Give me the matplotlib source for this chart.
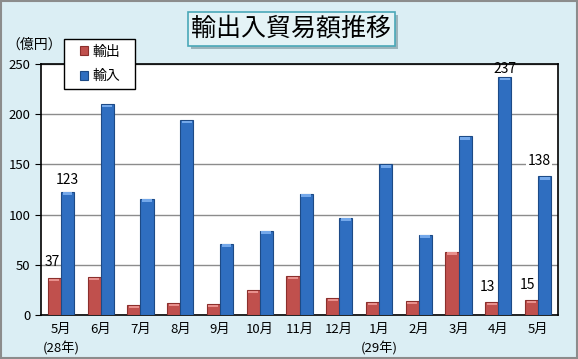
import numpy as np
import matplotlib
matplotlib.use("Agg")
import matplotlib.pyplot as plt
from matplotlib.patches import Rectangle

plt.rcParams["font.family"] = ["Noto Sans CJK JP", "DejaVu Sans"]

months = ["5月\n(28年)", "6月", "7月", "8月", "9月", "10月", "11月", "12月",
          "1月\n(29年)", "2月", "3月", "4月", "5月"]
exports = [37, 38, 10, 12, 11, 25, 39, 17, 13, 14, 63, 13, 15]
imports = [123, 210, 116, 194, 71, 84, 121, 97, 150, 80, 178, 237, 138]

W, H = 578, 359
fig = plt.figure(figsize=(W / 100, H / 100), dpi=100)
fig.patch.set_facecolor("#dbeef4")
fig.patches.append(Rectangle((0.002, 0.003), 0.996, 0.994, transform=fig.transFigure,
                             fill=False, edgecolor="#8c8c8c", lw=1.5))

ax = fig.add_axes([41 / W, 1 - 315 / H, 517 / W, 251 / H])
x = np.arange(len(months))
bw = 0.33
ax.bar(x - bw / 2, exports, bw, color="#c0504d", edgecolor="#8b2f2c", lw=0.8,
       label="輸出", zorder=3)
ax.bar(x + bw / 2, imports, bw, color="#2f6ec0", edgecolor="#1d4a86", lw=0.8,
       label="輸入", zorder=3)
# lighter top caps for a 3-D look
ax.bar(x - bw / 2, [2.5] * len(x), bw * 0.75, bottom=np.array(exports) - 3.2,
       color="#e8908d", lw=0, zorder=4)
ax.bar(x + bw / 2, [2.5] * len(x), bw * 0.75, bottom=np.array(imports) - 3.2,
       color="#74a8ea", lw=0, zorder=4)

ax.set_xlim(-0.5, len(months) - 0.5)
ax.set_ylim(0, 250)
ax.set_yticks(range(0, 251, 50))
ax.yaxis.grid(True, color="#8c8c8c", lw=1, zorder=0)
ax.set_xticks(x)
ax.set_xticklabels(months, fontsize=9.5, linespacing=1.45, va="top")
ax.tick_params(axis="x", length=0, pad=6)
ax.tick_params(axis="y", labelsize=9.5, length=4, direction="out")
for s in ax.spines.values():
    s.set_color("black")
    s.set_linewidth(1.2)

# data labels
lab = dict(fontsize=10, ha="center", va="bottom", zorder=6)
ax.text(0 - bw / 2 - 0.05, exports[0] + 9, "37", **lab)
ax.text(0 + bw / 2, imports[0] + 4, "123", **lab)
ax.text(11 + bw / 2, imports[11] + 1, "237", **lab)
ax.text(11 - bw / 2 - 0.12, exports[11] + 8, "13", **lab)
ax.text(12 - bw / 2 - 0.1, exports[12] + 8, "15", **lab)
ax.text(12 + 0.02, imports[12] + 8, "138", bbox=dict(facecolor="white", edgecolor="none", pad=1), **lab)

# legend: manual frame, frameless legend inside
fig.patches.append(Rectangle((64 / W, 1 - 89 / H), 71 / W, 50 / H, transform=fig.transFigure,
                             facecolor="white", edgecolor="black", lw=1.0, zorder=5))
leg = fig.legend(loc="upper left", bbox_to_anchor=(77 / W, 1 - 42 / H), fontsize=10,
                 frameon=False, handlelength=0.6, handleheight=0.6, labelspacing=0.75,
                 borderpad=0.2, handletextpad=0.35, borderaxespad=0)
leg.set_zorder(6)

fig.text(34 / W, 1 - 45 / H, "（億円）", fontsize=10, ha="center", va="center")

# title box with shadow
bx, by, bw_, bh_ = 188 / W, 1 - 46 / H, 207 / W, 34 / H
fig.patches.append(Rectangle((bx + 3 / W, by - 3 / H), bw_, bh_, transform=fig.transFigure,
                             facecolor="#9bb4bb", edgecolor="none"))
fig.patches.append(Rectangle((bx, by), bw_, bh_, transform=fig.transFigure,
                             facecolor="#e4f3f6", edgecolor="#4aa8b8", lw=1.2))
fig.text(bx + bw_ / 2, by + bh_ / 2, "輸出入貿易額推移", fontsize=18,
         ha="center", va="center")

fig.savefig("out.png", dpi=100, facecolor=fig.get_facecolor())
